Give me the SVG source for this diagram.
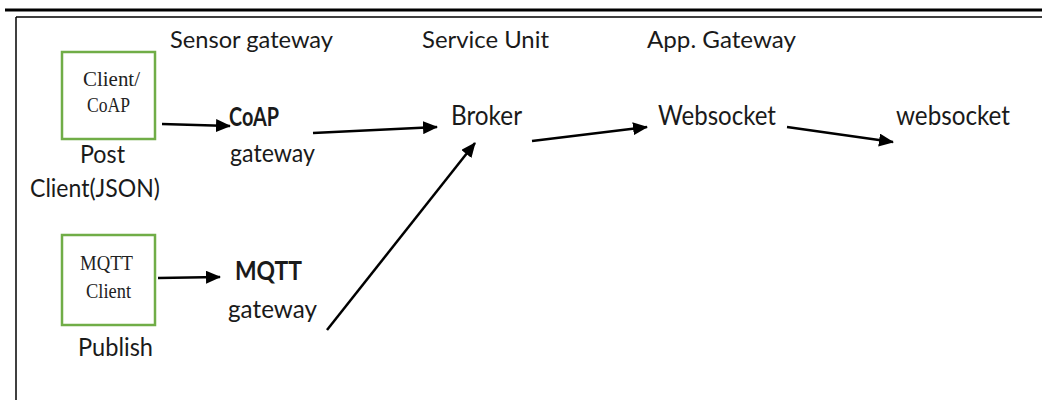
<svg xmlns="http://www.w3.org/2000/svg" width="1042" height="400" viewBox="0 0 1042 400">
<style>
.lbl{font-family:Lato,"Open Sans","Liberation Sans",sans-serif;font-size:25px;fill:#1a1a1a}
.hdr{font-size:23px}
.big{font-size:27px}
.bold{font-weight:bold;font-size:27px}
.ser{font-family:"Liberation Serif","DejaVu Serif",serif;font-size:20px;fill:#222}
.box{fill:#fff;stroke:#70ad47;stroke-width:2.5}
.conn{stroke:#000;stroke-width:2.5;fill:none;marker-end:url(#ah)}
</style>
<defs>
<marker id="ah" viewBox="0 0 15 13" refX="14" refY="6.5" markerWidth="15" markerHeight="13" markerUnits="userSpaceOnUse" orient="auto">
<path d="M0,0 L15,6.5 L0,13 Z" fill="#000"/>
</marker>
</defs>
<rect width="1042" height="400" fill="#fff"/>
<g id="frame">
<line x1="5" y1="10" x2="1042" y2="10" stroke="#000" stroke-width="3"/>
<line x1="16" y1="17" x2="1042" y2="17" stroke="#000" stroke-width="1.5"/>
<line x1="16" y1="17" x2="16" y2="400" stroke="#000" stroke-width="1.5"/>
</g>
<g id="headers">
<text class="lbl hdr" x="170" y="48" textLength="163" lengthAdjust="spacingAndGlyphs">Sensor gateway</text>
<text class="lbl hdr" x="422" y="48" textLength="127" lengthAdjust="spacingAndGlyphs">Service Unit</text>
<text class="lbl hdr" x="647" y="48" textLength="149" lengthAdjust="spacingAndGlyphs">App. Gateway</text>
</g>
<g id="coap-client">
<rect class="box" x="62" y="52" width="93" height="87"/>
<text class="ser" x="83" y="86" textLength="57" lengthAdjust="spacingAndGlyphs">Client/</text>
<text class="ser" x="87" y="112" textLength="43" lengthAdjust="spacingAndGlyphs">CoAP</text>
<text class="lbl" x="80" y="163" textLength="45" lengthAdjust="spacingAndGlyphs">Post</text>
<text class="lbl" x="30" y="197" textLength="130" lengthAdjust="spacingAndGlyphs">Client(JSON)</text>
</g>
<g id="mqtt-client">
<rect class="box" x="62" y="235" width="93" height="90"/>
<text class="ser" x="80" y="270" textLength="53" lengthAdjust="spacingAndGlyphs">MQTT</text>
<text class="ser" x="86" y="298" textLength="45" lengthAdjust="spacingAndGlyphs">Client</text>
<text class="lbl" x="78" y="356" textLength="75" lengthAdjust="spacingAndGlyphs">Publish</text>
</g>
<g id="coap-gateway">
<text class="lbl bold" x="229" y="126" textLength="50" lengthAdjust="spacingAndGlyphs">CoAP</text>
<text class="lbl" x="230" y="162" textLength="85" lengthAdjust="spacingAndGlyphs">gateway</text>
</g>
<g id="mqtt-gateway">
<text class="lbl bold" x="235" y="280" textLength="67" lengthAdjust="spacingAndGlyphs">MQTT</text>
<text class="lbl" x="228" y="318" textLength="89" lengthAdjust="spacingAndGlyphs">gateway</text>
</g>
<g id="broker">
<text class="lbl big" x="451" y="125" textLength="71" lengthAdjust="spacingAndGlyphs">Broker</text>
</g>
<g id="websocket-app">
<text class="lbl big" x="658" y="125" textLength="118" lengthAdjust="spacingAndGlyphs">Websocket</text>
</g>
<g id="websocket-client">
<text class="lbl big" x="896" y="125" textLength="114" lengthAdjust="spacingAndGlyphs">websocket</text>
</g>
<g id="connectors">
<line class="conn" x1="162" y1="124" x2="230" y2="126"/>
<line class="conn" x1="313" y1="133" x2="437" y2="127"/>
<line class="conn" x1="532" y1="141" x2="647" y2="127"/>
<line class="conn" x1="787" y1="127" x2="893" y2="142"/>
<line class="conn" x1="158" y1="278" x2="220" y2="277"/>
<line class="conn" x1="327" y1="330" x2="475" y2="143"/>
</g>
</svg>
